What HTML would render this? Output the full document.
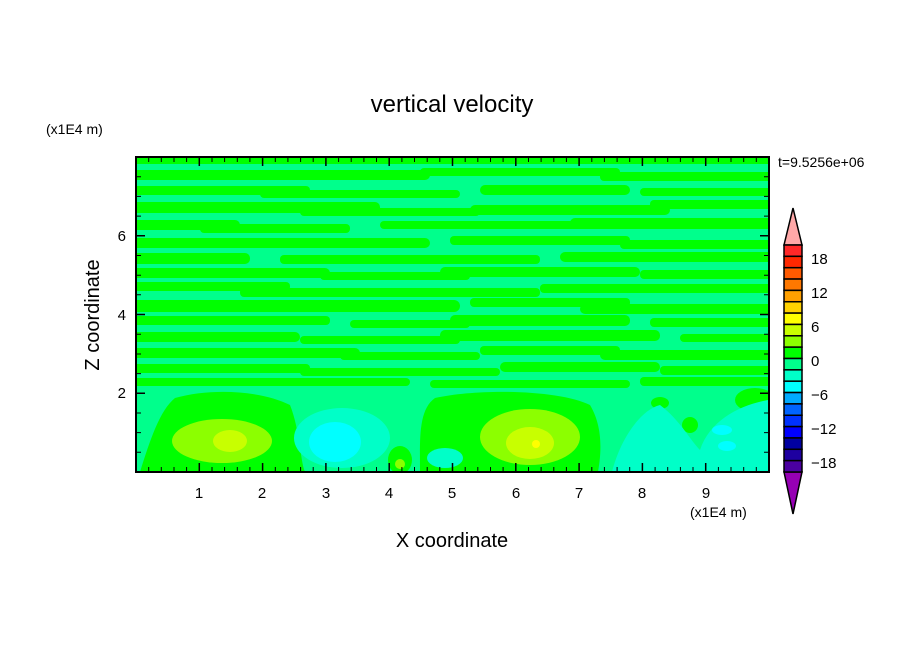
<!DOCTYPE html>
<html><head><meta charset="utf-8"><style>
body{margin:0;background:#fff}
svg{display:block}
text{font-family:"Liberation Sans",sans-serif;fill:#000}
</style></head><body>
<svg width="904" height="654" viewBox="0 0 904 654" xmlns="http://www.w3.org/2000/svg">
<defs><clipPath id="c"><rect x="136" y="157" width="633" height="315"/></clipPath></defs>
<g clip-path="url(#c)">
<rect x="136" y="157" width="633" height="315" fill="#00ff8c"/>
<g fill="#00ff00">
<rect x="130" y="155" width="650" height="9"/>
<rect x="130" y="170" width="300" height="10" rx="5"/><rect x="420" y="168" width="200" height="8" rx="4"/><rect x="600" y="172" width="180" height="9" rx="4"/>
<rect x="130" y="186" width="180" height="9" rx="4"/><rect x="260" y="190" width="200" height="8" rx="4"/><rect x="480" y="185" width="150" height="10" rx="5"/><rect x="640" y="188" width="140" height="8" rx="4"/>
<rect x="130" y="202" width="250" height="11" rx="5"/><rect x="300" y="208" width="180" height="8" rx="4"/><rect x="470" y="205" width="200" height="10" rx="5"/><rect x="650" y="200" width="130" height="9" rx="4"/>
<rect x="130" y="220" width="110" height="10" rx="5"/><rect x="200" y="224" width="150" height="9" rx="4"/><rect x="380" y="221" width="200" height="8" rx="4"/><rect x="570" y="218" width="210" height="11" rx="5"/>
<rect x="130" y="238" width="300" height="10" rx="5"/><rect x="450" y="236" width="180" height="9" rx="4"/><rect x="620" y="240" width="160" height="9" rx="4"/>
<rect x="130" y="253" width="120" height="11" rx="5"/><rect x="280" y="255" width="260" height="9" rx="4"/><rect x="560" y="252" width="220" height="10" rx="5"/>
<rect x="130" y="268" width="200" height="10" rx="5"/><rect x="320" y="272" width="150" height="8" rx="4"/><rect x="440" y="267" width="200" height="10" rx="5"/><rect x="640" y="270" width="140" height="9" rx="4"/>
<rect x="130" y="282" width="160" height="9" rx="4"/><rect x="240" y="288" width="300" height="9" rx="4"/><rect x="540" y="284" width="240" height="9" rx="4"/>
<rect x="130" y="300" width="330" height="12" rx="6"/><rect x="470" y="298" width="160" height="9" rx="4"/><rect x="580" y="304" width="200" height="10" rx="5"/>
<rect x="130" y="316" width="200" height="9" rx="4"/><rect x="350" y="320" width="120" height="8" rx="4"/><rect x="450" y="315" width="180" height="11" rx="5"/><rect x="650" y="318" width="130" height="9" rx="4"/>
<rect x="130" y="332" width="170" height="10" rx="5"/><rect x="300" y="336" width="160" height="8" rx="4"/><rect x="440" y="330" width="220" height="11" rx="5"/><rect x="680" y="334" width="100" height="8" rx="4"/>
<rect x="130" y="348" width="230" height="10" rx="5"/><rect x="340" y="352" width="140" height="8" rx="4"/><rect x="480" y="346" width="140" height="9" rx="4"/><rect x="600" y="350" width="180" height="10" rx="5"/>
<rect x="130" y="364" width="180" height="9" rx="4"/><rect x="300" y="368" width="200" height="8" rx="4"/><rect x="500" y="362" width="160" height="10" rx="5"/><rect x="660" y="366" width="120" height="9" rx="4"/>
<rect x="130" y="378" width="280" height="8" rx="4"/><rect x="430" y="380" width="200" height="8" rx="4"/><rect x="640" y="377" width="140" height="9" rx="4"/>
<path d="M140 472 C150 440 160 410 175 398 C210 388 260 390 290 405 C300 430 300 460 305 472 Z"/>
<path d="M420 472 C420 440 418 410 435 398 C480 388 560 390 590 405 C605 430 600 460 598 472 Z"/>
<ellipse cx="400" cy="460" rx="12" ry="14"/>
<ellipse cx="670" cy="470" rx="12" ry="6"/>
<ellipse cx="690" cy="425" rx="8" ry="8"/>
<ellipse cx="660" cy="403" rx="9" ry="6"/>
<ellipse cx="755" cy="400" rx="20" ry="12"/>
</g>
<g fill="#8cff00">
<ellipse cx="222" cy="441" rx="50" ry="22"/>
<ellipse cx="530" cy="437" rx="50" ry="28"/>
<ellipse cx="400" cy="464" rx="5" ry="5"/>
</g>
<g fill="#c8ff00">
<ellipse cx="230" cy="441" rx="17" ry="11"/>
<ellipse cx="530" cy="443" rx="24" ry="16"/>
</g>
<ellipse cx="536" cy="444" rx="4" ry="4" fill="#ffff00"/>
<g fill="#00ffc8">
<ellipse cx="342" cy="438" rx="48" ry="30"/>
<ellipse cx="445" cy="458" rx="18" ry="10"/>
<path d="M612 472 C620 440 640 410 660 405 C680 420 690 440 700 450 C710 420 740 405 768 400 L770 472 Z"/>
</g>
<g fill="#00ffff">
<ellipse cx="335" cy="442" rx="26" ry="20"/>
<ellipse cx="722" cy="430" rx="10" ry="5"/>
<ellipse cx="727" cy="446" rx="9" ry="5"/>
</g>
</g>
<rect x="136" y="157" width="633" height="315" fill="none" stroke="#000" stroke-width="2"/>
<g stroke="#000" stroke-width="1.5">
<path d="M199.3 472v-9M262.6 472v-9M325.9 472v-9M389.2 472v-9M452.5 472v-9M515.8 472v-9M579.1 472v-9M642.4 472v-9M705.7 472v-9"/>
<path d="M199.3 157v9M262.6 157v9M325.9 157v9M389.2 157v9M452.5 157v9M515.8 157v9M579.1 157v9M642.4 157v9M705.7 157v9"/>
<path d="M136 393.3h9M136 314.5h9M136 235.8h9M769 393.3h-9M769 314.5h-9M769 235.8h-9"/>
</g>
<g stroke="#000" stroke-width="1" id="minor">
<path d="M148.7 472v-5M161.3 472v-5M174 472v-5M186.6 472v-5M212 472v-5M224.6 472v-5M237.3 472v-5M249.9 472v-5M275.3 472v-5M287.9 472v-5M300.6 472v-5M313.2 472v-5M338.6 472v-5M351.2 472v-5M363.9 472v-5M376.5 472v-5M401.9 472v-5M414.5 472v-5M427.2 472v-5M439.8 472v-5M465.2 472v-5M477.8 472v-5M490.5 472v-5M503.1 472v-5M528.5 472v-5M541.1 472v-5M553.8 472v-5M566.4 472v-5M591.8 472v-5M604.4 472v-5M617.1 472v-5M629.7 472v-5M655.1 472v-5M667.7 472v-5M680.4 472v-5M693 472v-5M718.4 472v-5M731 472v-5M743.7 472v-5M756.3 472v-5"/>
<path d="M148.7 157v5M161.3 157v5M174 157v5M186.6 157v5M212 157v5M224.6 157v5M237.3 157v5M249.9 157v5M275.3 157v5M287.9 157v5M300.6 157v5M313.2 157v5M338.6 157v5M351.2 157v5M363.9 157v5M376.5 157v5M401.9 157v5M414.5 157v5M427.2 157v5M439.8 157v5M465.2 157v5M477.8 157v5M490.5 157v5M503.1 157v5M528.5 157v5M541.1 157v5M553.8 157v5M566.4 157v5M591.8 157v5M604.4 157v5M617.1 157v5M629.7 157v5M655.1 157v5M667.7 157v5M680.4 157v5M693 157v5M718.4 157v5M731 157v5M743.7 157v5M756.3 157v5"/>
<path d="M136 452.3h5M136 432.6h5M136 413h5M136 373.6h5M136 354h5M136 334.2h5M136 294.8h5M136 275.2h5M136 255.5h5M136 216.1h5M136 196.4h5M136 176.7h5"/>
<path d="M769 452.3h-5M769 432.6h-5M769 413h-5M769 373.6h-5M769 354h-5M769 334.2h-5M769 294.8h-5M769 275.2h-5M769 255.5h-5M769 216.1h-5M769 196.4h-5M769 176.7h-5"/>
</g>
<g font-size="15" text-anchor="middle">
<text x="199" y="498">1</text><text x="262" y="498">2</text><text x="326" y="498">3</text><text x="389" y="498">4</text><text x="452" y="498">5</text><text x="516" y="498">6</text><text x="579" y="498">7</text><text x="642" y="498">8</text><text x="706" y="498">9</text>
</g>
<g font-size="15" text-anchor="end">
<text x="126" y="398">2</text><text x="126" y="320">4</text><text x="126" y="241">6</text>
</g>
<text x="452" y="112" font-size="24" text-anchor="middle">vertical velocity</text>
<text x="452" y="547" font-size="20" text-anchor="middle">X coordinate</text>
<text transform="translate(99,315) rotate(-90)" font-size="20" text-anchor="middle">Z coordinate</text>
<text x="46" y="134" font-size="14">(x1E4 m)</text>
<text x="690" y="517" font-size="14">(x1E4 m)</text>
<text x="778" y="167" font-size="14">t=9.5256e+06</text>
<g stroke="#000" stroke-width="1.5">
<path d="M793 208 L802 245 L784 245 Z" fill="#ffa8a8"/>
<path d="M784 472 L802 472 L793 514 Z" fill="#9600b4"/>
<rect x="784" y="245.0" width="18" height="11.35" fill="#ff2828"/>
<rect x="784" y="256.35" width="18" height="11.35" fill="#ff2800"/>
<rect x="784" y="267.7" width="18" height="11.35" fill="#ff5a00"/>
<rect x="784" y="279.05" width="18" height="11.35" fill="#ff7800"/>
<rect x="784" y="290.4" width="18" height="11.35" fill="#ffa000"/>
<rect x="784" y="301.75" width="18" height="11.35" fill="#ffd200"/>
<rect x="784" y="313.1" width="18" height="11.35" fill="#ffff00"/>
<rect x="784" y="324.45" width="18" height="11.35" fill="#c8ff00"/>
<rect x="784" y="335.8" width="18" height="11.35" fill="#8cff00"/>
<rect x="784" y="347.15" width="18" height="11.35" fill="#00ff00"/>
<rect x="784" y="358.5" width="18" height="11.35" fill="#00ff8c"/>
<rect x="784" y="369.85" width="18" height="11.35" fill="#00ffc8"/>
<rect x="784" y="381.2" width="18" height="11.35" fill="#00ffff"/>
<rect x="784" y="392.55" width="18" height="11.35" fill="#00aaff"/>
<rect x="784" y="403.9" width="18" height="11.35" fill="#0064ff"/>
<rect x="784" y="415.25" width="18" height="11.35" fill="#0032ff"/>
<rect x="784" y="426.6" width="18" height="11.35" fill="#0000ff"/>
<rect x="784" y="437.95" width="18" height="11.35" fill="#0000a0"/>
<rect x="784" y="449.3" width="18" height="11.35" fill="#1e00a0"/>
<rect x="784" y="460.65" width="18" height="11.35" fill="#4b00a0"/>
</g>
<g font-size="15">
<text x="811" y="264">18</text><text x="811" y="298">12</text><text x="811" y="332">6</text><text x="811" y="366">0</text>
<text x="811" y="400">−6</text><text x="811" y="434">−12</text><text x="811" y="468">−18</text>
</g>
</svg>
</body></html>
